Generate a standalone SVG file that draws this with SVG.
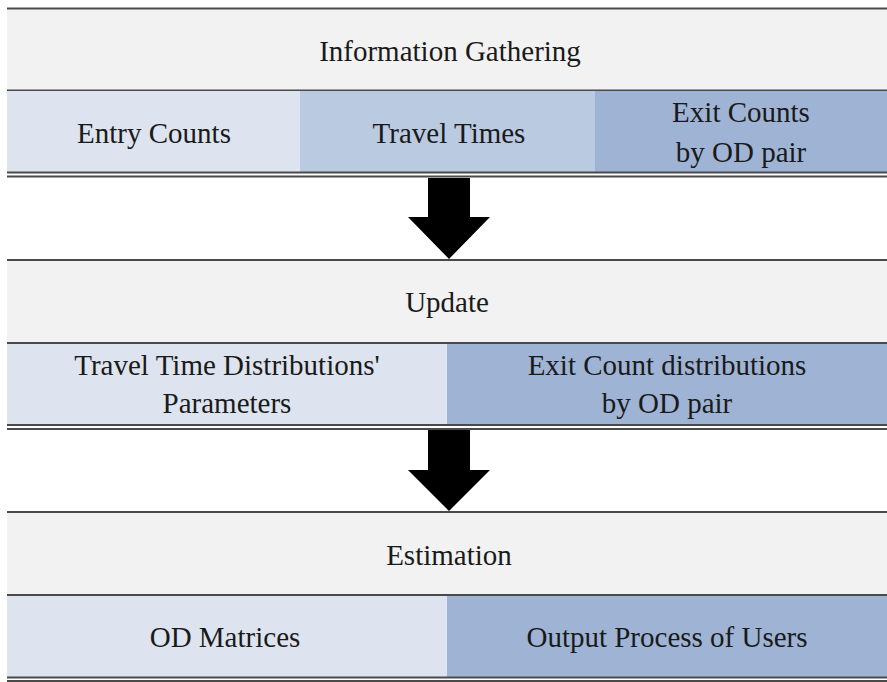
<svg xmlns="http://www.w3.org/2000/svg" width="887" height="682" viewBox="0 0 887 682">
<style>
.t{font-size:29px;fill:#1a1a1a;text-anchor:middle}
.ln{stroke:#4a4a4a;stroke-width:2}
.grey{fill:#f2f2f2}
.b1{fill:#dde4ef}
.b2{fill:#b9cae1}
.b3{fill:#9fb4d5}
.arr{fill:#000}
</style>
<rect width="887" height="682" fill="#fff"/>
<g font-family="'Times New Roman', Times, 'Liberation Serif', serif">
<g id="info">
<rect class="grey" x="7" y="9" width="880" height="81"/>
<line class="ln" x1="7" y1="8.5" x2="887" y2="8.5"/>
<line class="ln" x1="7" y1="90.5" x2="887" y2="90.5"/>
<text class="t" x="450" y="61">Information Gathering</text>
</g>
<g id="entry">
<rect class="b1" x="7" y="91" width="293" height="81"/>
<text class="t" x="154" y="143">Entry Counts</text>
</g>
<g id="travel">
<rect class="b2" x="300" y="91" width="295" height="81"/>
<text class="t" x="449" y="143">Travel Times</text>
</g>
<g id="exit">
<rect class="b3" x="595" y="91" width="292" height="81"/>
<text class="t" x="741" y="122">Exit Counts</text>
<text class="t" x="741" y="162">by OD pair</text>
</g>
<g id="update">
<rect class="grey" x="7" y="261" width="880" height="81"/>
<line class="ln" x1="7" y1="260" x2="887" y2="260"/>
<line class="ln" x1="7" y1="343" x2="887" y2="343"/>
<text class="t" x="447" y="312">Update</text>
</g>
<g id="ttparams">
<rect class="b1" x="7" y="344" width="440" height="80"/>
<text class="t" x="227" y="375">Travel Time Distributions'</text>
<text class="t" x="227" y="413">Parameters</text>
</g>
<g id="exitdist">
<rect class="b3" x="447" y="344" width="440" height="80"/>
<text class="t" x="667" y="375">Exit Count distributions</text>
<text class="t" x="667" y="413">by OD pair</text>
</g>
<g id="estimation">
<rect class="grey" x="7" y="513" width="880" height="81"/>
<line class="ln" x1="7" y1="512" x2="887" y2="512"/>
<line class="ln" x1="7" y1="595" x2="887" y2="595"/>
<text class="t" x="449" y="565">Estimation</text>
</g>
<g id="od">
<rect class="b1" x="7" y="596" width="440" height="81"/>
<text class="t" x="225" y="647">OD Matrices</text>
</g>
<g id="output">
<rect class="b3" x="447" y="596" width="440" height="81"/>
<text class="t" x="667" y="647">Output Process of Users</text>
</g>
</g>
<g id="connectors">
<line class="ln" x1="7" y1="172.5" x2="887" y2="172.5"/>
<line class="ln" x1="7" y1="176.5" x2="887" y2="176.5"/>
<line class="ln" x1="7" y1="425" x2="887" y2="425"/>
<line class="ln" x1="7" y1="429" x2="887" y2="429"/>
<line class="ln" x1="7" y1="677.5" x2="887" y2="677.5"/>
<line class="ln" x1="7" y1="681" x2="887" y2="681"/>
<polygon class="arr" points="428,178 470,178 470,217 490,217 449,259 408,217 428,217"/>
<polygon class="arr" points="428,430 470,430 470,470 490,470 449,511 408,470 428,470"/>
</g>
</svg>
